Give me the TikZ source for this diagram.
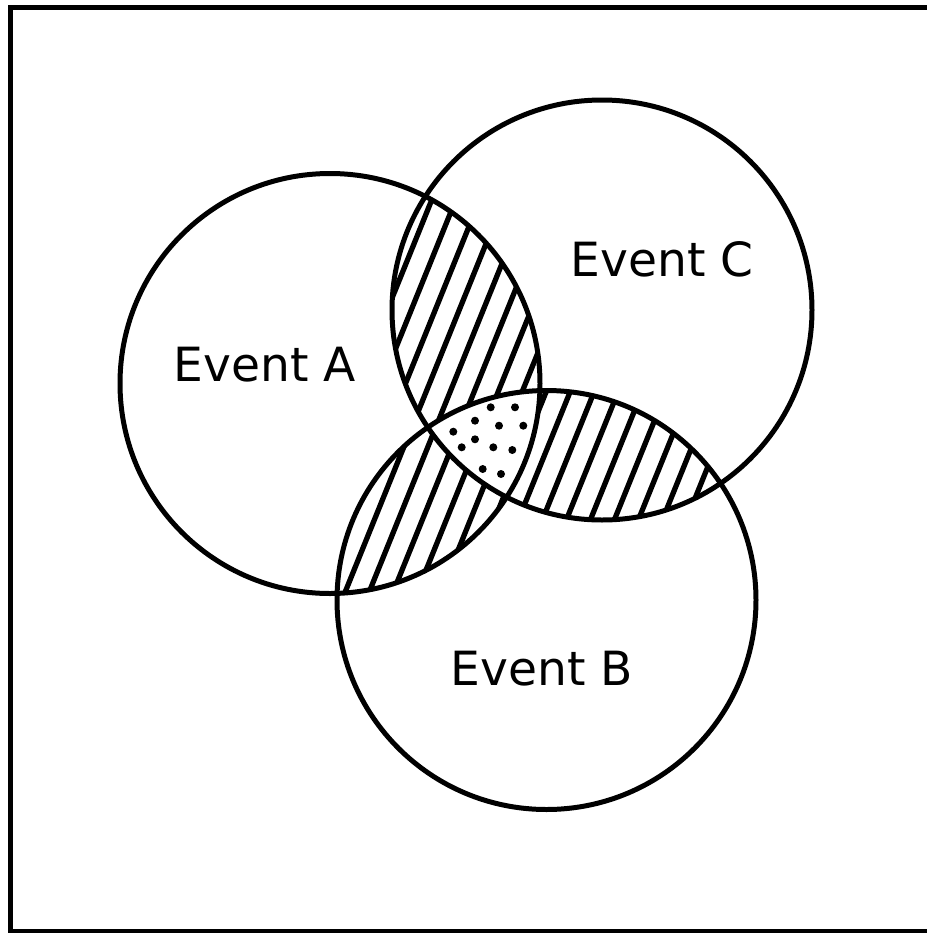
\documentclass[tikz,border=0pt]{standalone}
\usepackage{fontspec}
\setmainfont{DejaVu Sans}
\tikzset{evlabel/.style={font=\fontsize{13.4pt}{16pt}\selectfont, anchor=base, inner sep=0pt}}
\begin{document}
\begin{tikzpicture}[x=0.01cm,y=-0.01cm,line width=1.42pt]
\useasboundingbox (0,0) rectangle (927,933);
\def\circA{(330,383.5) circle (210)}
\def\circB{(546.5,600) circle (209.5)}
\def\circC{(602,310) circle (210)}
\def\hatch{\foreach \x in {28.6,52.6,...,580.6} \draw[line width=1.5pt] (\x,900) -- ++(364,-900);}
% Frame
\draw (10.8,7.5) rectangle (960,931.5);
% Hatching of the pairwise overlaps
\begin{scope}
\clip \circA; \clip \circC; \hatch
\end{scope}
\begin{scope}
\clip \circA; \clip \circB; \hatch
\end{scope}
\begin{scope}
\clip \circB; \clip \circC; \hatch
\end{scope}
% Triple overlap, dotted
\begin{scope}
\clip \circA; \clip \circB; \clip \circC;
\fill[white] (0,0) rectangle (927,933);
\foreach \p in {(490.7,407.3),(515,407.3),(475,420.7),(499,425.7),(523.3,425.7),(453.3,431.7),
  (475,439.3),(461.7,447.3),(493.3,447.3),(512.3,450),(482.7,469),(501,474)}
  \fill \p circle (4);
\end{scope}
% Circles
\draw \circA;
\draw \circB;
\draw \circC;
\node[evlabel] (evA) at (265,381.7) {Event A};
\node[evlabel] (evC) at (662,276.7) {Event C};
\node[evlabel] (evB) at (542,685) {Event B};
\end{tikzpicture}
\end{document}
